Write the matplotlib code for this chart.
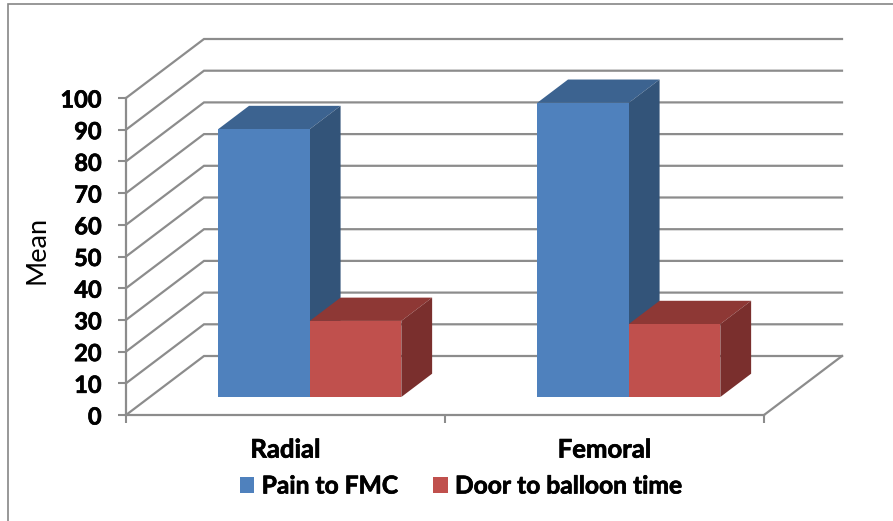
import matplotlib
matplotlib.use("Agg")
import matplotlib.pyplot as plt
import matplotlib.patheffects as pe
from matplotlib.patches import Polygon, Patch, Rectangle

# data
categories = ["Radial", "Femoral"]
pain_to_fmc = [84.5, 92.8]
door_to_balloon = [24.0, 23.0]
series_names = ["Pain to FMC", "Door to balloon time"]
y_ticks = [0, 10, 20, 30, 40, 50, 60, 70, 80, 90, 100]

plt.rcParams['font.family'] = ['Lato', 'DejaVu Sans']

W, H = 893, 521
grid_col = '#8c8c8c'

# depth of the fake 3d box, in data units
depth_x = 78 / 319
depth_y = 59 / 3.17
bar_w = 0.287
gap = 0.2145
d_front = 0.305
d_back = 0.70

# lato bold is a bit light next to the original labels
heavy = [pe.withStroke(linewidth=0.5, foreground='black')]


def proj(x, y, d):
    return (x + d * depth_x, y + d * depth_y)


def draw_bar(ax, x0, val, front, top, side):
    x1 = x0 + bar_w
    ax.add_patch(Polygon([proj(x0, val, d_front), proj(x0, val, d_back),
                          proj(x1, val, d_back), proj(x1, val, d_front)],
                         facecolor=top, edgecolor='none', clip_on=False, zorder=3))
    ax.add_patch(Polygon([proj(x1, 0, d_front), proj(x1, 0, d_back),
                          proj(x1, val, d_back), proj(x1, val, d_front)],
                         facecolor=side, edgecolor='none', clip_on=False, zorder=3))
    ax.add_patch(Polygon([proj(x0, 0, d_front), proj(x1, 0, d_front),
                          proj(x1, val, d_front), proj(x0, val, d_front)],
                         facecolor=front, edgecolor='none', clip_on=False, zorder=3))


fig = plt.figure(figsize=(W / 100, H / 100), dpi=100)
ax = fig.add_axes([126 / W, (H - 415) / H, (764 - 126) / W, (415 - 98) / H])
ax.set_xlim(0, 2)
ax.set_ylim(0, 100)
ax.patch.set_alpha(0)

# outer border of the chart area
fig.add_artist(Rectangle((8 / W, -0.05), 1.1, (H - 4) / H + 0.05, transform=fig.transFigure,
                         facecolor='none', edgecolor='#868686', linewidth=1.2))

# walls and grid
for t in y_ticks:
    bx, by = proj(0, t, 1)
    ex, ey = proj(2, t, 1)
    ax.plot([0, bx, ex], [t, by, ey], color=grid_col, lw=1.6, clip_on=False,
            solid_joinstyle='miter', zorder=1)
fx, fy = proj(2, 0, 1)
ax.plot([2, fx], [0, fy], color=grid_col, lw=1.6, clip_on=False, zorder=1)

# bars
for i in range(len(categories)):
    x0 = i + gap
    draw_bar(ax, x0, pain_to_fmc[i], '#4F81BD', '#3C6390', '#335479')
    draw_bar(ax, x0 + bar_w, door_to_balloon[i], '#C0504D', '#8E3835', '#7A2F2D')

# axes
for s in ['top', 'right']:
    ax.spines[s].set_visible(False)
for s in ['left', 'bottom']:
    ax.spines[s].set_color(grid_col)
    ax.spines[s].set_linewidth(1.6)
ax.set_yticks(y_ticks)
ax.set_yticklabels([str(t) for t in y_ticks], fontsize=17, fontweight='bold', path_effects=heavy)
ax.tick_params(axis='y', length=6, width=1.5, color=grid_col, pad=11.5)
ax.set_xticks([0, 1, 2])
ax.set_xticklabels([])
ax.tick_params(axis='x', length=6, width=1.5, color=grid_col)
ax.set_xticks([0.5, 1.5], minor=True)
ax.set_xticklabels(categories, minor=True, fontsize=18.5, fontweight='bold', path_effects=heavy)
ax.tick_params(axis='x', which='minor', length=0, pad=16.3)

fig.text(37 / W, (H - 250) / H, "Mean", rotation=90, fontsize=19.5, ha='center', va='center')

handles = [Patch(facecolor='#4F81BD', label=series_names[0]),
           Patch(facecolor='#C0504D', label=series_names[1])]
leg = fig.legend(handles=handles, loc='center', bbox_to_anchor=(461 / W, (H - 486) / H),
                 ncol=2, frameon=False, prop={'size': 17.7, 'weight': 'bold'},
                 handlelength=0.6, handleheight=0.6, handletextpad=0.3, columnspacing=1.4)
for txt in leg.get_texts():
    txt.set_path_effects(heavy)

fig.savefig("out.png", dpi=100)
